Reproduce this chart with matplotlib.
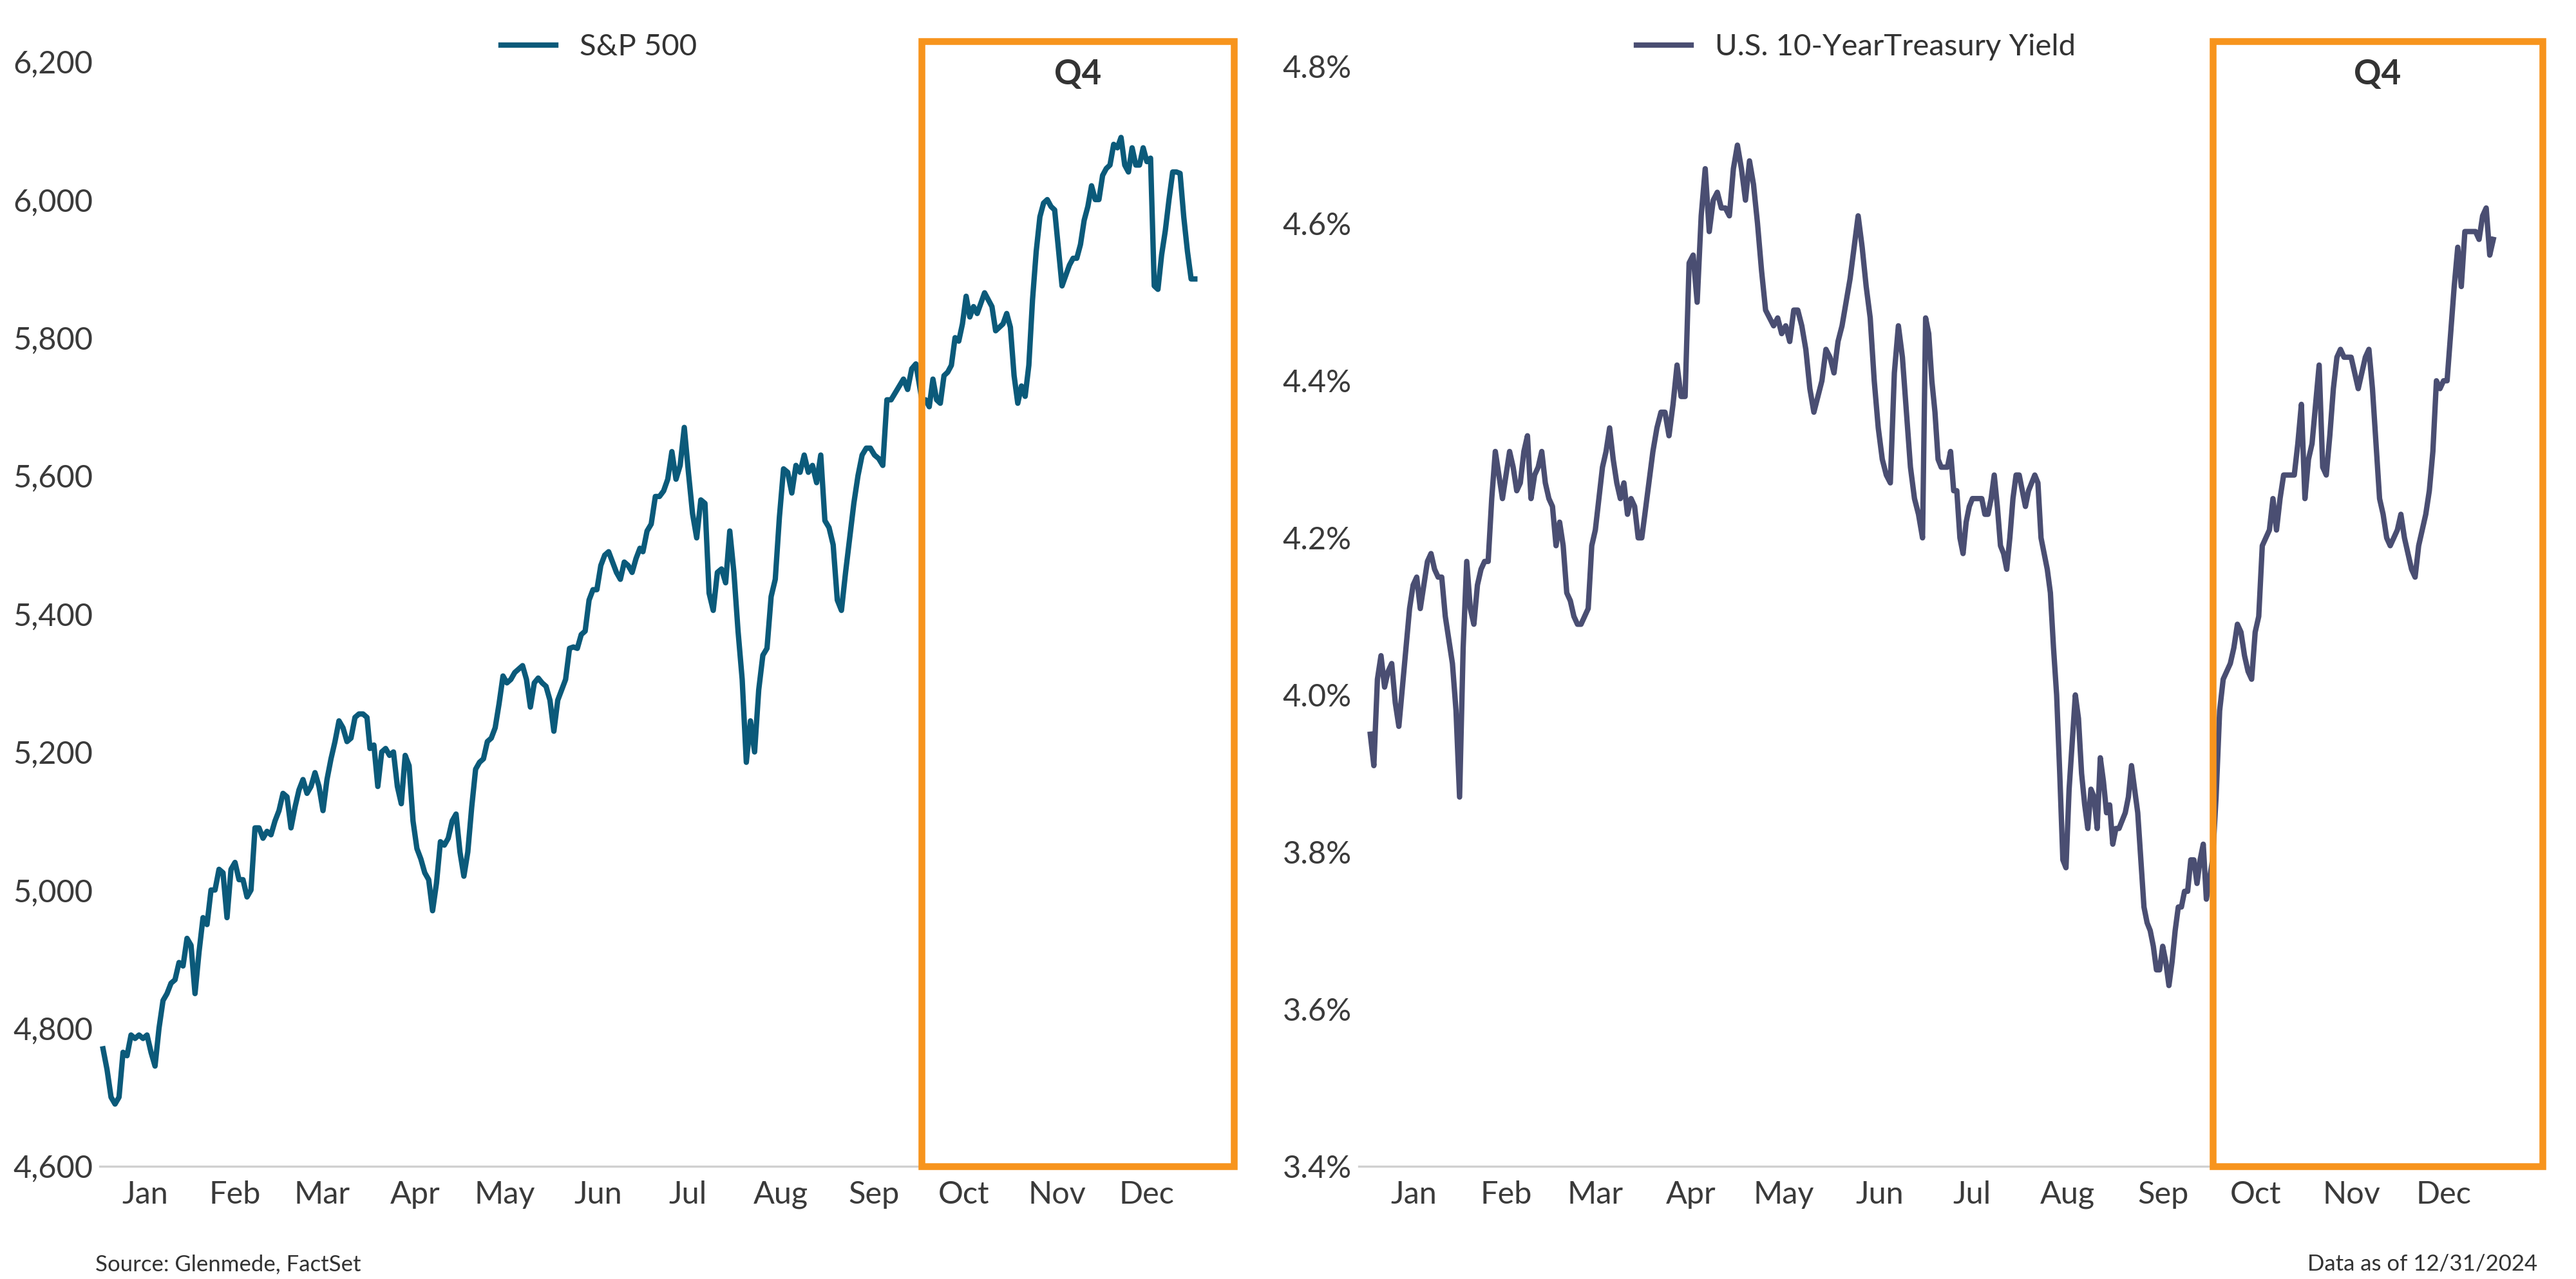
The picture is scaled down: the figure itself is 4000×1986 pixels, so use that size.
import numpy as np
import matplotlib
matplotlib.use("Agg")
import matplotlib.pyplot as plt
from matplotlib.patches import Rectangle

plt.rcParams['font.family'] = ['Lato', 'DejaVu Sans']

months = ["Jan","Feb","Mar","Apr","May","Jun","Jul","Aug","Sep","Oct","Nov","Dec"]

# S&P 500, by quarter
sp_q1 = [4770,4740,4700,4690,4700,4765,4760,4790,4785,4790,4785,4790,4765,4745,4800,4840,4850,4865,4870,4895,4890,4930,4920,4850,4910,4960,4950,5000,5000,5030,5025,4960,5030,5040,5015,5015,4990,5000,5090,5090,5075,5085,5080,5100,5115,5140,5135,5090,5120,5145,5160,5140,5150,5170,5150,5115,5160,5190,5215,5245,5235,5215,5220,5250,5255,5255,5250]
sp_q2 = [5205,5210,5150,5200,5205,5195,5200,5150,5125,5195,5180,5100,5060,5045,5025,5015,4970,5010,5070,5065,5075,5100,5110,5055,5020,5055,5120,5175,5185,5190,5215,5220,5235,5270,5310,5300,5305,5315,5320,5325,5305,5265,5300,5307,5300,5295,5275,5230,5275,5290,5305,5350,5352,5350,5370,5375,5420,5435,5435,5470,5485,5490,5475,5460,5450,5475,5470,5460,5480,5495]
sp_q3 = [5490,5520,5530,5570,5570,5578,5595,5635,5595,5615,5670,5605,5545,5510,5565,5560,5430,5405,5460,5465,5445,5520,5460,5375,5305,5185,5245,5200,5290,5340,5350,5425,5450,5540,5610,5605,5575,5615,5605,5630,5605,5615,5590,5630,5535,5525,5500,5420,5405,5460,5510,5560,5600,5630,5640,5640,5630,5625,5615,5710,5710,5720,5730,5740,5725,5755,5762]
sp_q4 = [5710,5710,5700,5740,5710,5705,5745,5750,5760,5800,5795,5820,5860,5830,5845,5835,5850,5865,5855,5845,5810,5815,5820,5835,5815,5745,5705,5730,5715,5760,5855,5925,5975,5995,6000,5990,5985,5930,5875,5890,5905,5915,5915,5935,5970,5990,6020,6000,6000,6035,6045,6050,6080,6075,6090,6050,6040,6075,6050,6050,6075,6055,6060,5875,5870,5920,5955,6000,6040,6040,6038,5975,5925,5885,5885]

# U.S. 10-Year Treasury yield (%), by quarter
ty_q1 = [3.95,3.91,4.02,4.05,4.01,4.03,4.04,3.99,3.96,4.01,4.06,4.11,4.14,4.15,4.11,4.14,4.17,4.18,4.16,4.15,4.15,4.10,4.07,4.04,3.98,3.87,4.06,4.17,4.11,4.09,4.14,4.16,4.17,4.17,4.25,4.31,4.28,4.25,4.28,4.31,4.29,4.26,4.27,4.31,4.33,4.25,4.28,4.29,4.31,4.27,4.25,4.24,4.19,4.22,4.19,4.13,4.12,4.10,4.09,4.09,4.10,4.11,4.19,4.21,4.25,4.29,4.31,4.34,4.30,4.27,4.25,4.27,4.23,4.25,4.24,4.20,4.20]
ty_q2 = [4.23,4.27,4.31,4.34,4.36,4.36,4.33,4.37,4.42,4.38,4.38,4.55,4.56,4.50,4.61,4.67,4.59,4.63,4.64,4.62,4.62,4.61,4.67,4.70,4.67,4.63,4.68,4.65,4.60,4.54,4.49,4.48,4.47,4.48,4.46,4.47,4.45,4.49,4.49,4.47,4.44,4.39,4.36,4.38,4.40,4.44,4.43,4.41,4.45,4.47,4.50,4.53,4.57,4.61,4.57,4.52,4.48,4.40,4.34,4.30,4.28,4.27,4.41,4.47,4.43,4.36,4.29,4.25,4.23,4.20]
ty_q3 = [4.48,4.46,4.40,4.36,4.30,4.29,4.29,4.29,4.31,4.26,4.26,4.20,4.18,4.22,4.24,4.25,4.25,4.25,4.25,4.23,4.23,4.25,4.28,4.24,4.19,4.18,4.16,4.20,4.25,4.28,4.28,4.26,4.24,4.26,4.27,4.28,4.27,4.20,4.18,4.16,4.13,4.06,4.00,3.90,3.79,3.78,3.88,3.94,4.00,3.97,3.90,3.86,3.83,3.88,3.87,3.83,3.92,3.89,3.85,3.86,3.81,3.83,3.83,3.84,3.85,3.87,3.91,3.88,3.85,3.79,3.73,3.71,3.70,3.68,3.65,3.65,3.68,3.66,3.63,3.66,3.70,3.73,3.73,3.75,3.75,3.79,3.79,3.76,3.79,3.81,3.74]
ty_q4 = [3.79,3.87,3.98,4.02,4.03,4.04,4.06,4.09,4.08,4.05,4.03,4.02,4.08,4.10,4.19,4.20,4.21,4.25,4.21,4.25,4.28,4.28,4.28,4.28,4.32,4.37,4.25,4.30,4.32,4.37,4.42,4.29,4.28,4.33,4.39,4.43,4.44,4.43,4.43,4.43,4.41,4.39,4.41,4.43,4.44,4.39,4.32,4.25,4.23,4.20,4.19,4.20,4.21,4.23,4.20,4.18,4.16,4.15,4.19,4.21,4.23,4.26,4.31,4.40,4.39,4.40,4.40,4.46,4.52,4.57,4.52,4.59,4.59,4.59,4.59,4.58,4.61,4.62,4.56,4.58]

q_bounds = [(2, 90), (91, 181), (182, 273), (275, 366)]
month_mid = [16, 46, 75, 106, 136, 167, 197, 228, 259, 289, 320, 350]

def build(segs):
    xs, ys = [], []
    for (a, b), seg in zip(q_bounds, segs):
        xs.extend(np.linspace(a, b, len(seg)))
        ys.extend(seg)
    return np.array(xs), np.array(ys)

fig = plt.figure(figsize=(20, 9.93), dpi=200)
dw, dh = 1545, 771
def rect(x0, x1, y0, y1):
    return [x0/dw, 1-y1/dh, (x1-x0)/dw, (y1-y0)/dh]

orange = "#F7941D"
tick_col = "#3a3a3a"

axL = fig.add_axes(rect(60, 740, 25, 703))
axR = fig.add_axes(rect(815, 1525, 25, 703))

x, y = build([sp_q1, sp_q2, sp_q3, sp_q4])
axL.plot(x, y, color="#0B5A7A", lw=3.0, label="S&P 500", solid_joinstyle="round")
axL.set_xlim(1, 379)
axL.set_ylim(4600, 6229)
axL.set_yticks(np.arange(4600, 6201, 200))
axL.set_yticklabels([f"{v:,}" for v in range(4600, 6201, 200)])

x2, y2 = build([ty_q1, ty_q2, ty_q3, ty_q4])
axR.plot(x2, y2, color="#4A4E72", lw=3.0, label="U.S. 10-YearTreasury Yield", solid_joinstyle="round")
axR.set_xlim(-1.7, 382)
axR.set_ylim(3.4, 4.832)
yt = np.arange(3.4, 4.81, 0.2)
axR.set_yticks(yt)
axR.set_yticklabels([f"{v:.1f}%" for v in yt])

for ax, lx in ((axL, 0.44), (axR, 0.42)):
    for s in ("top", "right", "left"):
        ax.spines[s].set_visible(False)
    ax.spines["bottom"].set_color("#d0d0d0")
    ax.spines["bottom"].set_linewidth(1.2)
    ax.set_xticks(month_mid)
    ax.set_xticklabels(months)
    ax.tick_params(axis="both", length=0, labelsize=17.5, colors=tick_col, pad=8)
    ax.tick_params(axis="y", pad=4)
    xl = ax.get_xlim()
    r = Rectangle((275, 0), xl[1]-275, 1, transform=ax.get_xaxis_transform(),
                  fill=False, edgecolor=orange, lw=3.8, clip_on=False, zorder=5)
    ax.add_patch(r)
    ax.text((275+xl[1])/2, 0.985, "Q4", transform=ax.get_xaxis_transform(),
            ha="center", va="top", fontsize=19, fontweight="bold", color="#333333")
    leg = ax.legend(loc="lower center", bbox_to_anchor=(lx, 0.972), frameon=False,
                    fontsize=17, handlelength=1.8, borderaxespad=0)
    for t in leg.get_texts():
        t.set_color("#333333")

fig.text(57/dw, 1-762/dh, "Source: Glenmede, FactSet", fontsize=12.5, color="#333333", va="center")
fig.text(1522/dw, 1-762/dh, "Data as of 12/31/2024", fontsize=12.5, color="#333333", va="center", ha="right")

fig.savefig("out.png", dpi=200)
